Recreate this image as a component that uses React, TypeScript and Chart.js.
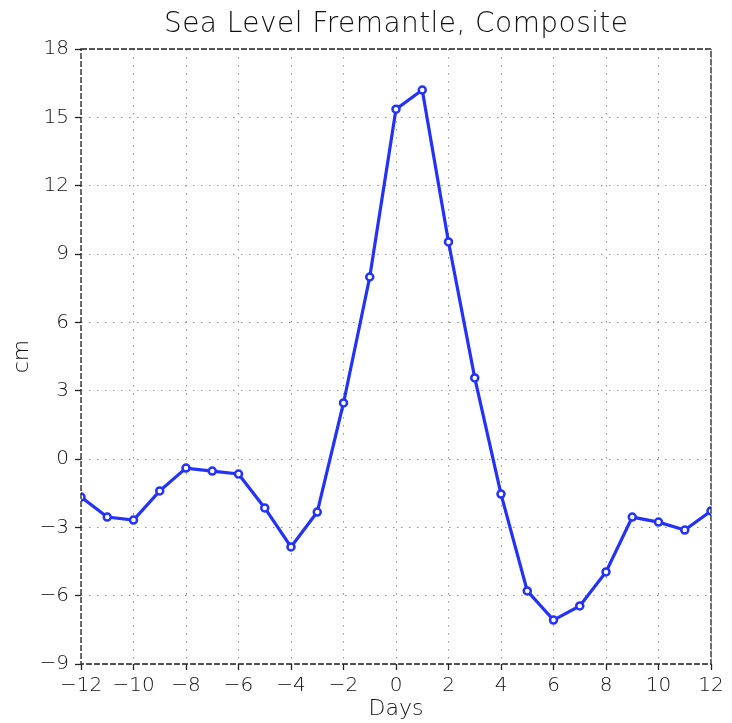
import React, { useEffect, useRef } from "react";
import { Chart, registerables } from "chart.js";

Chart.register(...registerables);

// Composite sea level anomaly at Fremantle (cm), by day relative to event
const days = [-12, -11, -10, -9, -8, -7, -6, -5, -4, -3, -2, -1, 0, 1, 2, 3, 4, 5, 6, 7, 8, 9, 10, 11, 12];
const seaLevel = [-1.67, -2.55, -2.68, -1.4, -0.4, -0.53, -0.66, -2.15, -3.86, -2.33, 2.46, 7.99, 15.36, 16.2, 9.53, 3.56, -1.54, -5.79, -7.07, -6.45, -4.96, -2.55, -2.77, -3.12, -2.28];

const titleText = "Sea Level Fremantle, Composite";
const xTitle = "Days";
const yTitle = "cm";

const FONT = "'DejaVu Sans', 'Liberation Sans', sans-serif";
const TEXT = "#111111";

const fmt = (v: number) => (v < 0 ? "\u2212" + Math.abs(v) : String(v));

// Frame, title and axis labels drawn directly on the canvas
const decorations = {
  id: "decorations",
  afterDatasetsDraw(chart: any) {
    const { ctx, chartArea } = chart;
    const { left, right, top, bottom } = chartArea;
    ctx.save();
    ctx.strokeStyle = "#222";
    ctx.lineWidth = 1.3;
    ctx.setLineDash([6, 2]);
    ctx.strokeRect(left, top, right - left, bottom - top);
    ctx.restore();
  },
  afterDraw(chart: any) {
    const { ctx, chartArea } = chart;
    const cx = (chartArea.left + chartArea.right) / 2;
    ctx.save();
    ctx.fillStyle = TEXT;
    ctx.textAlign = "center";
    ctx.textBaseline = "alphabetic";
    ctx.font = `200 28px ${FONT}`;
    const w = ctx.measureText(titleText).width;
    const spacing = (464 - w) / (titleText.length - 1);
    (ctx as any).letterSpacing = `${spacing}px`;
    ctx.fillText(titleText, cx + spacing / 2, 32);
    (ctx as any).letterSpacing = "0px";
    ctx.font = `200 22px ${FONT}`;
    ctx.fillText(xTitle, cx, 715);
    ctx.translate(28, (chartArea.top + chartArea.bottom) / 2);
    ctx.rotate(-Math.PI / 2);
    ctx.fillText(yTitle, 0, 0);
    ctx.restore();
  },
};

export default function App() {
  const ref = useRef<HTMLCanvasElement>(null);

  useEffect(() => {
    if (!ref.current) return;
    const gridStyle = {
      color: "#909090",
      lineWidth: 1,
      tickColor: "#222",
      tickLength: 6,
      tickWidth: 1.3,
      tickBorderDash: [],
      drawTicks: true,
    };
    const borderStyle = { display: false, dash: [1.5, 6.5] };
    const tickFont = { family: FONT, size: 20, weight: 200 as any };
    const chart = new Chart(ref.current, {
      type: "line",
      data: {
        datasets: [
          {
            data: days.map((d, i) => ({ x: d, y: seaLevel[i] })),
            borderColor: "rgb(35, 50, 250)",
            borderWidth: 3.2,
            pointRadius: 3.5,
            pointBorderWidth: 2.5,
            pointBackgroundColor: "#ffffff",
            pointBorderColor: "rgb(35, 50, 250)",
            tension: 0,
          },
        ],
      },
      options: {
        animation: false,
        responsive: false,
        layout: { padding: { left: 0, right: 21, top: 49, bottom: 0 } },
        plugins: { legend: { display: false }, title: { display: false }, tooltip: { enabled: false } },
        scales: {
          x: {
            type: "linear",
            min: -12,
            max: 12,
            border: borderStyle,
            grid: gridStyle,
            afterFit: (s: any) => {
              s.height = 59;
            },
            ticks: {
              stepSize: 2,
              autoSkip: false,
              maxRotation: 0,
              padding: 4,
              color: TEXT,
              font: tickFont,
              callback: (v: any) => fmt(Number(v)),
            },
          },
          y: {
            type: "linear",
            min: -9,
            max: 18,
            border: borderStyle,
            grid: gridStyle,
            afterFit: (s: any) => {
              s.width = 81;
            },
            ticks: {
              stepSize: 3,
              padding: 6,
              color: TEXT,
              font: tickFont,
              callback: (v: any) => fmt(Number(v)),
            },
          },
        },
      },
      plugins: [decorations],
    } as any);
    return () => chart.destroy();
  }, []);

  return (
    <div style={{ position: "fixed", left: 0, top: 0, width: 732, height: 723, background: "#fff" }}>
      <canvas ref={ref} width={732} height={723} style={{ display: "block" }} />
    </div>
  );
}
